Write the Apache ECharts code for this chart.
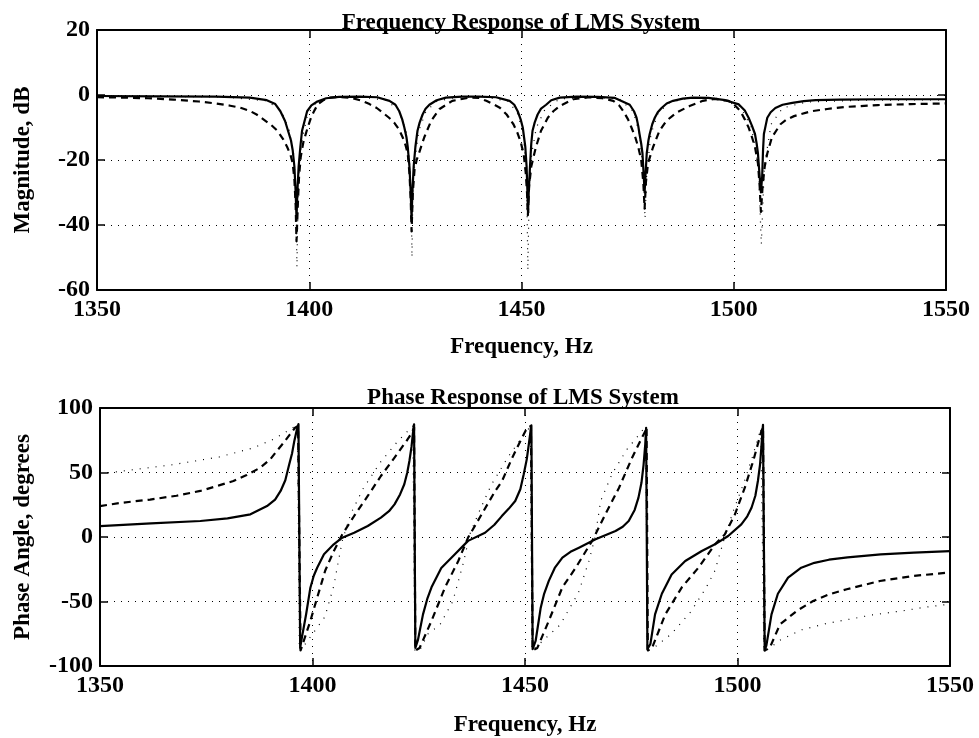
<!DOCTYPE html>
<html>
<head>
<meta charset="utf-8">
<title>LMS System Response</title>
<script src="https://cdn.jsdelivr.net/npm/echarts@6/dist/echarts.min.js"></script>
<style>
  html, body { margin: 0; padding: 0; background: #fff; }
  #chart { width: 979px; height: 738px; }
</style>
</head>
<body>
<div id="chart"></div>
<script>
// Tick values for the two panels
const freqTicks = [1350, 1400, 1450, 1500, 1550];
const magTicks = [20, 0, -20, -40, -60];
const phaseTicks = [100, 50, 0, -50, -100];

const topTitle = 'Frequency Response of LMS System';
const bottomTitle = 'Phase Response of LMS System';
const xName = 'Frequency, Hz';
const magName = 'Magnitude, dB';
const phaseName = 'Phase Angle, degrees';

// Magnitude response, [frequency Hz, dB]
const magSolid = [
  [1350,-0.3],[1365,-0.4],[1378,-0.5],[1386,-0.8],[1390,-1.6],[1392,-2.8],[1393.2,-5],[1394.3,-8],[1395,-11],
  [1395.7,-14],[1396.1,-17],[1396.5,-22],[1396.8,-30],[1397.0,-38],[1397.2,-30],[1397.5,-22],[1397.9,-16],
  [1398.3,-11],[1398.9,-8],[1399.5,-5],[1400.5,-3.2],[1401.9,-2],[1404,-1],[1407,-0.6],[1412,-0.5],
  [1416,-0.7],[1418.9,-1.8],[1420.3,-3],[1421.2,-5],[1421.9,-7.5],[1422.4,-10],[1422.9,-13],[1423.2,-16],
  [1423.6,-22],[1423.9,-30],[1424.1,-38],[1424.3,-30],[1424.6,-22],[1425.0,-16],[1425.5,-11],[1426.0,-8.5],
  [1426.7,-6],[1427.4,-4.2],[1428.3,-3],[1430,-1.6],[1432.2,-0.8],[1436,-0.5],[1440,-0.5],
  [1444,-0.7],[1447.2,-1.8],[1448.3,-3],[1449.1,-5],[1449.8,-7.5],[1450.3,-10],[1450.6,-13],[1450.9,-16],
  [1451.2,-22],[1451.4,-30],[1451.55,-36],[1451.7,-30],[1452.0,-22],[1452.3,-15],[1452.6,-11],[1453.1,-8.5],
  [1453.8,-6],[1454.6,-4.2],[1455.8,-3],[1457,-1.6],[1459,-0.8],[1463,-0.5],[1468,-0.6],
  [1472,-0.9],[1475.5,-3],[1476.5,-5],[1477.1,-7],[1477.5,-9.5],[1477.8,-12],[1478.2,-15],[1478.5,-18],
  [1478.8,-25],[1479.0,-30],[1479.2,-25],[1479.5,-18],[1479.9,-14],[1480.2,-12],[1480.8,-9],[1481.4,-7],
  [1482.1,-5.3],[1483,-4],[1484.2,-2.6],[1485.7,-1.8],[1488,-1.1],[1490.4,-0.8],[1494,-0.9],
  [1498,-1.6],[1501.2,-2.9],[1502.6,-4.8],[1503.5,-7],[1504.3,-9.5],[1505,-12],[1505.4,-15],[1505.7,-18],
  [1506.1,-25],[1506.4,-30],[1506.7,-25],[1506.9,-17],[1507.1,-12],[1507.5,-9.5],[1507.9,-7],[1508.7,-5.3],
  [1509.8,-4],[1511.5,-3],[1513.8,-2.4],[1516.5,-1.9],[1519.3,-1.6],[1525,-1.4],[1535,-1.3],[1550,-1.3]
];
const magDashed = [
  [1350,-0.7],[1356,-0.8],[1362,-1],[1368,-1.4],[1374,-2],[1378,-2.6],[1381.4,-3.3],[1384,-4],[1386,-4.9],
  [1387.6,-6],[1389.2,-7.5],[1391,-9.2],[1392.5,-11],[1393.8,-13.5],[1394.8,-16],[1395.6,-18.5],[1396.1,-21],
  [1396.5,-26],[1396.8,-34],[1397.0,-45],[1397.3,-34],[1397.6,-25],[1398.0,-19],[1398.6,-14.6],[1399.4,-11],
  [1400.4,-7],[1401.2,-4.8],[1402,-2.9],[1403.2,-1.7],[1404.7,-0.8],[1407,-0.6],[1410,-0.9],[1412.5,-1.8],
  [1414.2,-2.8],[1415.9,-4],[1417.3,-5.4],[1418.8,-7],[1420,-8.5],[1421.1,-10.5],[1422,-13],[1422.7,-15.5],
  [1423.2,-18],[1423.6,-24],[1423.9,-32],[1424.1,-42],[1424.4,-30],[1424.8,-23],[1425.3,-20],[1425.9,-17.7],
  [1427.1,-13],[1428.7,-8],[1430.7,-4.3],[1433.7,-1.8],[1437.7,-0.8],[1440,-0.9],
  [1441.7,-1.8],[1443.3,-2.8],[1444.9,-3.9],[1446.5,-6],[1448.1,-9],[1449,-11.5],[1449.7,-14],[1450.5,-18],
  [1451.0,-24],[1451.3,-30],[1451.5,-37],[1451.8,-28],[1452.3,-22],[1453.4,-16],[1454.6,-11],[1456.2,-7],
  [1457.5,-5],[1459,-3.4],[1462.2,-1.3],[1466,-0.7],
  [1469,-1],[1471.6,-1.8],[1473,-3.2],[1474,-5],[1475.1,-7.5],[1475.9,-10],[1476.8,-13],[1477.5,-16],
  [1478.2,-20],[1478.7,-27],[1479.0,-35],[1479.3,-27],[1479.8,-21],[1480.4,-18.5],[1481,-16],[1482.5,-11],
  [1484.1,-8],[1486.5,-5.4],[1489.6,-3.4],[1492.7,-1.8],[1495.5,-1.2],[1497,-1.5],
  [1498.8,-1.8],[1500.3,-3.2],[1501.6,-5],[1502.6,-7.5],[1503.5,-10],[1504.3,-13],[1505,-16],[1505.7,-21],
  [1506.1,-28],[1506.4,-36],[1506.8,-28],[1507.3,-22],[1507.9,-18],[1509,-13],[1511,-9],[1512.5,-7.5],
  [1514.2,-6.5],[1518.2,-5],[1522,-4.3],[1526,-3.7],[1533.9,-3.1],[1541.7,-2.8],[1550,-2.6]
];
const magDotted = [
  [1350,-0.2],[1380,-0.6],[1390,-1.8],[1393.5,-5],[1395.3,-11],[1396.3,-18],[1396.8,-28],[1397.1,-53],
  [1397.4,-28],[1397.9,-18],[1398.6,-12],[1399.6,-6],[1401.5,-2.5],[1405,-0.8],[1412,-0.6],[1418,-1.6],
  [1421,-4.5],[1422.8,-11],[1423.6,-20],[1424.0,-30],[1424.2,-50],[1424.4,-30],[1424.9,-20],[1425.8,-11],
  [1427.5,-5],[1430,-2],[1435,-0.6],[1442,-0.7],[1447,-2],[1449.2,-6],[1450.5,-13],[1451.2,-24],[1451.5,-54],
  [1451.8,-30],[1452.4,-18],[1453.5,-10],[1455.5,-4.5],[1459,-1.2],[1466,-0.6],[1473,-1.2],[1476.3,-5],
  [1477.8,-12],[1478.7,-24],[1479.1,-38],[1479.5,-24],[1480.5,-12],[1482.2,-5.5],[1485,-2.2],[1490,-0.8],
  [1496,-1],[1501.5,-3.5],[1504.2,-10],[1505.8,-22],[1506.5,-46],[1507.2,-22],[1508.8,-9],[1511.5,-4],
  [1517,-2.2],[1530,-1.6],[1550,-1.5]
];

// Phase response, [frequency Hz, degrees]
const phaseSolid = [
  [1350,8.5],[1362,10.5],[1373.6,12.4],[1380,14.5],[1385.4,17.6],[1389.3,24],[1391.2,29],[1392.5,35.7],
  [1393.6,44],[1394.5,56],[1395.2,65],[1395.7,74],[1396.3,83],[1396.7,87.5],
  [1397.1,-86],[1397.5,-78],[1398.5,-59.9],[1399.5,-39.3],[1400.3,-30],[1401.1,-23.8],[1402.7,-13.4],
  [1405,-5.7],[1407,-0.5],[1409.8,3.3],[1413,8.5],[1416.1,15],[1418,20],[1419.3,25.3],[1420.6,33],
  [1421.6,40.9],[1422.3,50],[1422.8,58.9],[1423.3,70],[1423.6,79.6],[1423.9,87.4],
  [1424.2,-86],[1424.8,-80],[1426,-60],[1427,-48],[1428,-39],[1430.3,-24],[1433.5,-13.4],[1436.6,-3],
  [1440.6,3.3],[1442.8,9.5],[1444.5,16],[1446.2,22],[1447.7,27.9],[1448.9,37],[1449.7,48.6],[1450.4,60],
  [1450.9,71.9],[1451.3,82],[1451.5,86.5],
  [1451.8,-87],[1452.5,-80.6],[1453.7,-54.8],[1454.5,-44],[1455.6,-34],[1457,-24],[1458.8,-16],[1460.7,-11.5],
  [1462.7,-8.3],[1466.6,-1.8],[1471.3,4.7],[1473,8],[1474.4,12.4],[1475.8,21],[1476.7,30.5],[1477.4,42],
  [1477.9,56],[1478.3,72],[1478.5,84.7],
  [1478.8,-87],[1479.5,-83],[1480.6,-60],[1482.2,-44],[1484.5,-29],[1487.7,-18.6],[1491.6,-10.9],[1494.7,-5.7],
  [1497.8,0.8],[1500.9,9.8],[1502.3,16],[1503.3,22.7],[1504.2,32],[1504.8,43.4],[1505.3,56],[1505.6,69],
  [1505.9,83.5],[1506.0,87],
  [1506.4,-88],[1506.8,-84],[1507.4,-72],[1508,-60],[1509.5,-44],[1511.9,-31.5],[1515,-23.8],[1518.1,-20],
  [1521.5,-17.6],[1525.9,-15.8],[1533.7,-13.4],[1541.5,-12.1],[1550,-10.9]
];
const phaseDashed = [
  [1350,24],[1355,26.5],[1361.8,29],[1368,32],[1373.6,35.7],[1378,40],[1381.4,43.4],[1384.5,48],[1387.7,53.7],
  [1390,60],[1391.6,66.7],[1393.2,73],[1394.7,79.6],[1395.9,84.7],[1396.6,86],
  [1397.2,-88],[1397.6,-87],[1399.5,-65],[1401.1,-47],[1403,-26],[1405,-11],[1407,2],[1409.8,16.3],
  [1413,31.8],[1416.1,47.3],[1419.3,61.5],[1422.1,74.4],[1423.4,80.9],[1423.9,85],
  [1424.2,-88],[1425.2,-86],[1428,-65],[1431.2,-39],[1434.3,-18.6],[1436.6,-0.5],[1439.8,17.6],[1443,35.7],
  [1444.6,43.4],[1447,61.5],[1449.3,77],[1450.5,84.7],[1451.4,86],
  [1451.8,-88],[1452.9,-86],[1455.6,-65],[1458.8,-39],[1461.9,-24],[1465.8,-3],[1468.9,17.6],[1472.1,38],
  [1475.2,61.5],[1477.5,77],[1478.3,82],[1478.6,85],
  [1478.9,-88],[1479.9,-86],[1483,-60],[1486.9,-39],[1490.8,-23.8],[1494.7,-5.7],[1497,2],[1499.4,17.6],
  [1501.7,38],[1503.7,59],[1505.2,77],[1505.6,82],[1506,85],
  [1506.4,-88],[1507.6,-85.8],[1510,-67.7],[1513.9,-57.4],[1517.8,-49.6],[1521.5,-44.5],[1525.7,-40.5],
  [1533.5,-34.1],[1541.3,-30.2],[1550,-27.5]
];
const phaseDotted = [
  [1350,49],[1355,51],[1367,56],[1378,62],[1386,69],[1391,76],[1394,82],[1396.5,87],[1396.9,-88],
  [1397.4,-87],[1400.5,-73],[1402.9,-62],[1405,-38],[1407,-3],[1409,18],[1412,38],[1416,58],[1420,74],
  [1423.6,86],[1424.1,-88],
  [1425.2,-88],[1427.2,-75],[1430,-68],[1433,-50],[1435.5,-20],[1437,2],[1439,18],[1442,40],[1446,62],
  [1449.5,78],[1451.3,86],[1451.7,-88],
  [1452,-88],[1455,-78],[1458.3,-68],[1462.6,-43],[1465,-19],[1466.5,0],[1467.8,28],[1470.5,49],[1474,68],
  [1477,80],[1478.4,86],[1478.8,-88],
  [1479.9,-87],[1484.5,-75],[1489,-58],[1492.5,-40],[1494.7,-26],[1497,0],[1499,20],[1501.5,42],[1503.5,62],
  [1505.5,84],[1506.2,-88],
  [1506.8,-88],[1510,-80],[1515,-72],[1521,-67],[1527.6,-63],[1531.5,-60.5],[1539.3,-57],[1544,-54.5],[1550,-52]
];

const FONT = '"Liberation Serif", "Times New Roman", serif';
const INK = '#000';

function step(ticks) { return Math.abs(ticks[1] - ticks[0]); }
function lo(ticks) { return Math.min.apply(null, ticks); }
function hi(ticks) { return Math.max.apply(null, ticks); }
// Plain numbers, no thousands separators
function plain(v) { return String(v); }

// Framed axis in the classic box style: ticks inward, dotted grid
function xAxisFor(grid, pos, withLabels, nameGap) {
  return {
    type: 'value', gridIndex: grid, position: pos,
    min: lo(freqTicks), max: hi(freqTicks), interval: step(freqTicks),
    name: withLabels ? xName : '', nameLocation: 'middle', nameGap: nameGap,
    nameTextStyle: { fontFamily: FONT, fontWeight: 'bold', fontSize: 23, color: INK },
    axisLine: { show: true, onZero: false, lineStyle: { color: INK, width: 2 } },
    axisTick: { show: true, inside: true, length: 8, lineStyle: { color: INK, width: 1.5 } },
    axisLabel: { show: withLabels, margin: 8, formatter: plain, fontFamily: FONT, fontWeight: 'bold', fontSize: 24, color: INK },
    splitLine: { show: withLabels, lineStyle: { color: INK, width: 1, type: [1, 6] } }
  };
}
function yAxisFor(grid, pos, ticks, withLabels, name, nameGap) {
  return {
    type: 'value', gridIndex: grid, position: pos,
    min: lo(ticks), max: hi(ticks), interval: step(ticks),
    name: withLabels ? name : '', nameLocation: 'middle', nameGap: nameGap, nameRotate: 90,
    nameTextStyle: { fontFamily: FONT, fontWeight: 'bold', fontSize: 23, color: INK },
    axisLine: { show: true, onZero: false, lineStyle: { color: INK, width: 2 } },
    axisTick: { show: true, inside: true, length: 8, lineStyle: { color: INK, width: 1.5 } },
    axisLabel: { show: withLabels, margin: 7, formatter: plain, fontFamily: FONT, fontWeight: 'bold', fontSize: 24, color: INK },
    splitLine: { show: withLabels, lineStyle: { color: INK, width: 1, type: [1, 6] } }
  };
}

function curve(data, xi, yi, kind) {
  const styles = {
    solid:  { width: 2.2, type: 'solid' },
    dashed: { width: 2.2, type: [7, 5] },
    dotted: { width: 1.2, type: [1, 7] }
  };
  return {
    type: 'line', xAxisIndex: xi, yAxisIndex: yi, data: data,
    showSymbol: false, symbol: 'none', smooth: false, z: kind === 'solid' ? 4 : 3,
    lineStyle: Object.assign({ color: INK, cap: 'butt', join: 'round' }, styles[kind])
  };
}

const chart = echarts.init(document.getElementById('chart'), null, { renderer: 'canvas' });
chart.setOption({
  backgroundColor: '#fff',
  animation: false,
  grid: [
    { left: 97, top: 30, width: 849, height: 260 },
    { left: 100, top: 408, width: 850, height: 258 }
  ],
  xAxis: [
    xAxisFor(0, 'bottom', true, 46),
    xAxisFor(0, 'top', false, 0),
    xAxisFor(1, 'bottom', true, 48),
    xAxisFor(1, 'top', false, 0)
  ],
  yAxis: [
    yAxisFor(0, 'left', magTicks, true, magName, 62),
    yAxisFor(0, 'right', magTicks, false, '', 0),
    yAxisFor(1, 'left', phaseTicks, true, phaseName, 65),
    yAxisFor(1, 'right', phaseTicks, false, '', 0)
  ],
  graphic: [
    { type: 'text', x: 521, y: 35, z: 10,
      style: { text: topTitle, font: 'bold 23px ' + FONT, fill: INK, textAlign: 'center', textVerticalAlign: 'bottom', verticalAlign: 'bottom' } },
    { type: 'text', x: 523, y: 410, z: 10,
      style: { text: bottomTitle, font: 'bold 23px ' + FONT, fill: INK, textAlign: 'center', textVerticalAlign: 'bottom', verticalAlign: 'bottom' } }
  ],
  series: [
    curve(magDotted, 0, 0, 'dotted'),
    curve(magDashed, 0, 0, 'dashed'),
    curve(magSolid, 0, 0, 'solid'),
    curve(phaseDotted, 2, 2, 'dotted'),
    curve(phaseDashed, 2, 2, 'dashed'),
    curve(phaseSolid, 2, 2, 'solid')
  ]
});
</script>
</body>
</html>
